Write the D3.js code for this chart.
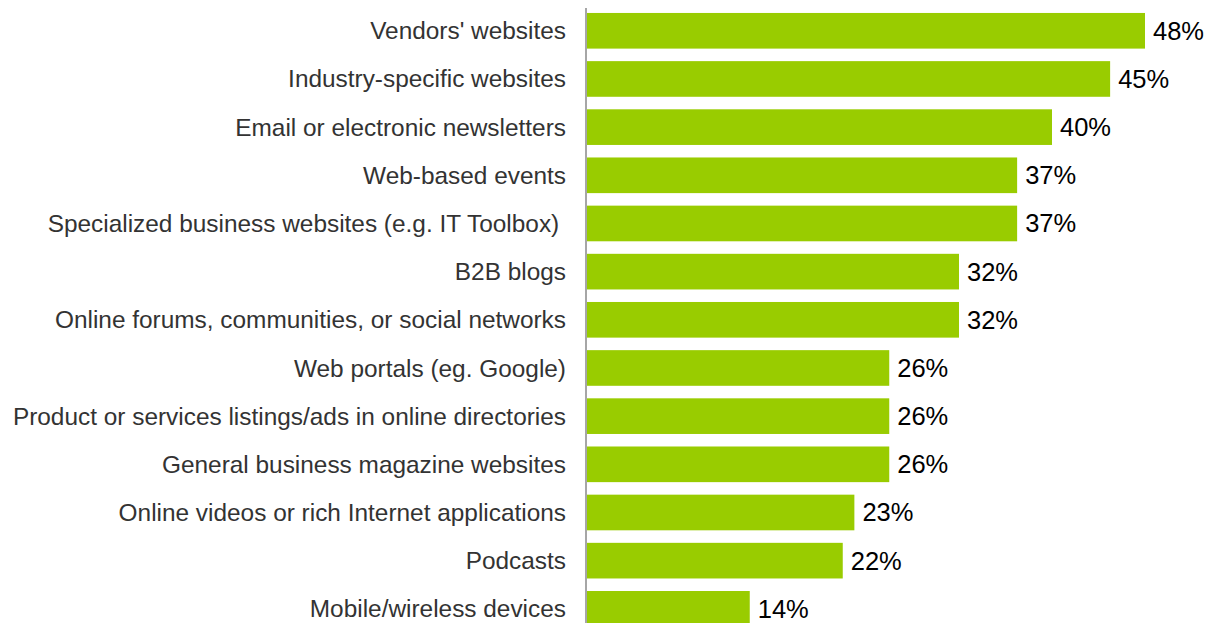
<!DOCTYPE html>
<html><head><meta charset="utf-8">
<script src="https://cdn.jsdelivr.net/npm/d3@7"></script>
<style>html,body{margin:0;padding:0;background:#fff;overflow:hidden}</style>
</head><body>
<svg id="c" width="1214" height="623"></svg>
<script>
const categories = ["Vendors' websites","Industry-specific websites","Email or electronic newsletters","Web-based events","Specialized business websites (e.g. IT Toolbox) ","B2B blogs","Online forums, communities, or social networks","Web portals (eg. Google)","Product or services listings/ads in online directories","General business magazine websites","Online videos or rich Internet applications","Podcasts","Mobile/wireless devices"];
const values = [48,45,40,37,37,32,32,26,26,26,23,22,14];

const svg = d3.select("#c");
const x0 = 587;
const x = d3.scaleLinear().domain([0,48]).range([x0,1145]);
const step = 48.17;
const y = d3.scaleBand().domain(categories).range([6.7, 6.7 + step*categories.length]).paddingInner(0.26).paddingOuter(0.13);

svg.selectAll("rect.bar").data(values).join("rect")
  .attr("class","bar")
  .attr("x", x(0))
  .attr("y", (d,i)=>y(categories[i]))
  .attr("width", d=>x(d)-x(0))
  .attr("height", y.bandwidth())
  .attr("fill","#99cc00");

svg.append("line").attr("x1",586).attr("x2",586).attr("y1",8).attr("y2",623)
  .attr("stroke","#888").attr("stroke-width",1.5);

svg.selectAll("text.cat").data(categories).join("text")
  .attr("class","cat")
  .attr("x",566)
  .attr("y",d=>y(d)+y.bandwidth()/2)
  .attr("dy","0.35em")
  .attr("text-anchor","end")
  .attr("font-family","'Liberation Sans', Arial, sans-serif")
  .attr("font-size",24.4)
  .attr("fill","#333")
  .attr("xml:space","preserve")
  .text(d=>d);

svg.selectAll("text.val").data(values).join("text")
  .attr("class","val")
  .attr("x",d=>x(d)+8)
  .attr("y",(d,i)=>y(categories[i])+y.bandwidth()/2)
  .attr("dy","0.35em")
  .attr("font-family","'Liberation Sans', Arial, sans-serif")
  .attr("font-size",25.5)
  .attr("fill","#000")
  .text(d=>d+"%");
</script>
</body></html>
